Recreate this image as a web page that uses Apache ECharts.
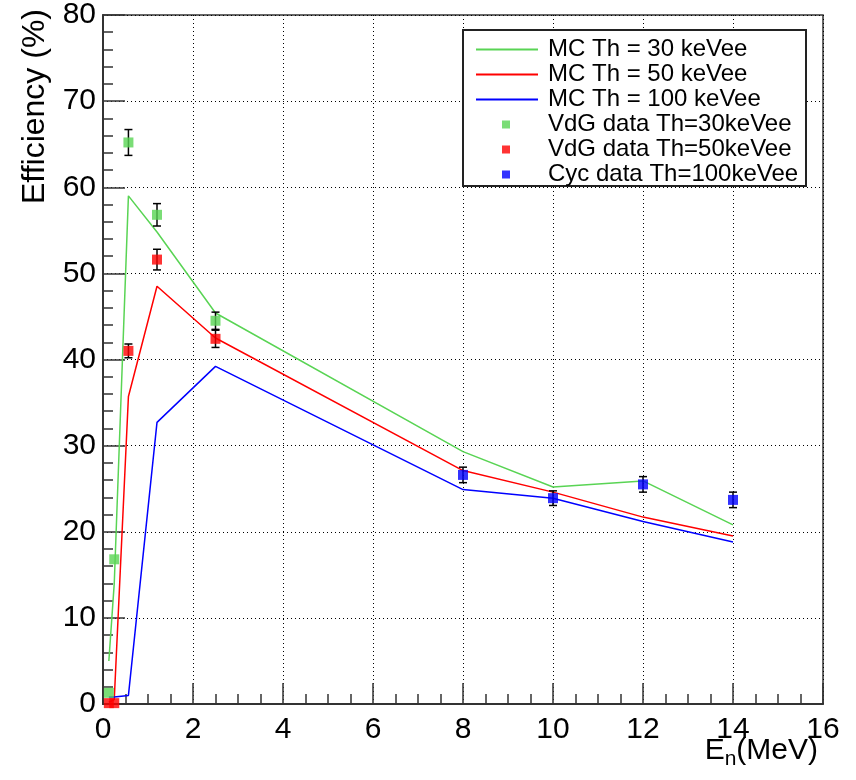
<!DOCTYPE html>
<html><head><meta charset="utf-8">
<script src="https://cdn.jsdelivr.net/npm/echarts@6/dist/echarts.min.js"></script>
<style>html,body{margin:0;padding:0;background:#fff}#c{width:856px;height:780px}</style>
</head><body><div id="c"></div>
<script>
// ---- data ----
const mcEnergies = [0.13, 0.25, 0.565, 1.2, 2.5, 8, 10, 12, 14];
const mc30 = [5.0, 14.0, 59.0, 54.8, 45.4, 29.3, 25.2, 25.9, 20.8];
const mc50 = [0.2, 0.5, 35.7, 48.5, 42.5, 27.1, 24.6, 21.7, 19.5];
const mc100 = [0.8, 0.8, 1.0, 32.7, 39.2, 24.9, 23.9, 21.2, 18.8];

const vdgEnergies = [0.13, 0.25, 0.565, 1.2, 2.5];
const vdg30 = [1.3, 16.8, 65.2, 56.8, 44.5];
const vdg30Err = [0, 0, 1.5, 1.3, 1.0];
const vdg50 = [0.1, 0.1, 41.0, 51.6, 42.4];
const vdg50Err = [0, 0, 0.8, 1.2, 1.0];

const cycEnergies = [8, 10, 12, 14];
const cyc100 = [26.6, 23.9, 25.5, 23.7];
const cyc100Err = [0.9, 0.85, 0.9, 0.9];

const mcNames = ['MC Th = 30 keVee', 'MC Th = 50 keVee', 'MC Th = 100 keVee'];
const dataNames = ['VdG data Th=30keVee', 'VdG data Th=50keVee', 'Cyc data Th=100keVee'];
const xTitle = 'E{sub|n}(MeV)';
const yTitle = 'Efficiency (%)';

// ---- style ----
const GREEN = '#59d454', RED = '#ff0000', BLUE = '#0000ff';
const FONT = 'Liberation Sans, Arial, Helvetica, sans-serif';

function pairs(xs, ys) { return xs.map((x, i) => [x, ys[i]]); }
function errData(xs, ys, es) { return xs.map((x, i) => [x, ys[i], es[i]]).filter(d => d[2] > 0); }

function lineSeries(name, ys, color) {
  return { type: 'line', name, data: pairs(mcEnergies, ys), showSymbol: false, symbol: 'none',
    lineStyle: { color, width: 1.5 }, itemStyle: { color }, z: 3, animation: false };
}
function scatterSeries(name, xs, ys, color) {
  return { type: 'scatter', name, data: pairs(xs, ys), symbol: 'rect', symbolSize: 10,
    itemStyle: { color }, z: 6, animation: false, clip: false };
}
function errSeries(name, xs, ys, es) {
  return { type: 'custom', name, data: errData(xs, ys, es), z: 5, animation: false,
    encode: { x: 0, y: 1 },
    renderItem(params, api) {
      const x = api.value(0), y = api.value(1), e = api.value(2);
      const lo = api.coord([x, y - e]), hi = api.coord([x, y + e]);
      const w = 4, st = { stroke: '#000', lineWidth: 1.5 };
      return { type: 'group', children: [
        { type: 'line', shape: { x1: lo[0], y1: lo[1], x2: hi[0], y2: hi[1] }, style: st },
        { type: 'line', shape: { x1: lo[0] - w, y1: lo[1], x2: lo[0] + w, y2: lo[1] }, style: st },
        { type: 'line', shape: { x1: hi[0] - w, y1: hi[1], x2: hi[0] + w, y2: hi[1] }, style: st }
      ]};
    }
  };
}

const chart = echarts.init(document.getElementById('c'), null, { renderer: 'canvas' });
const dotted = { color: '#000', width: 1, type: [1, 3] };
chart.setOption({
  backgroundColor: '#fff',
  animation: false,
  grid: { left: 103, right: 33, top: 14, bottom: 76, show: true, borderColor: '#333', borderWidth: 1.5, backgroundColor: 'transparent' },
  xAxis: {
    type: 'value', min: 0, max: 16, interval: 2,
    axisLine: { show: true, onZero: false, lineStyle: { color: '#333', width: 2 } },
    axisTick: { show: true, inside: true, length: 21, lineStyle: { color: '#333', width: 1.5 } },
    minorTick: { show: true, splitNumber: 4, length: 10, lineStyle: { color: '#333', width: 1.5 } },
    axisLabel: { color: '#000', fontSize: 30, fontFamily: FONT, margin: 11 },
    splitLine: { show: true, lineStyle: dotted }
  },
  yAxis: {
    type: 'value', min: 0, max: 80, interval: 10,
    axisLine: { show: true, onZero: false, lineStyle: { color: '#333', width: 2 } },
    axisTick: { show: true, inside: true, length: 22, lineStyle: { color: '#333', width: 1.5 } },
    minorTick: { show: true, splitNumber: 5, length: 10, lineStyle: { color: '#333', width: 1.5 } },
    axisLabel: { color: '#000', fontSize: 30, fontFamily: FONT, margin: 7 },
    splitLine: { show: true, lineStyle: dotted }
  },
  legend: [
    { data: mcNames, orient: 'vertical', left: 476, top: 37, padding: 0, itemWidth: 62, itemHeight: 2, icon: 'rect', itemGap: 0,
      selectedMode: false, z: 12,
      textStyle: { fontSize: 24, lineHeight: 25, fontFamily: FONT, color: '#000', padding: [0, 0, 0, 5] } },
    { data: dataNames, orient: 'vertical', left: 502, top: 112, padding: 0, itemWidth: 8, itemHeight: 8, icon: 'rect', itemGap: 0,
      selectedMode: false, z: 12,
      textStyle: { fontSize: 24, lineHeight: 25, fontFamily: FONT, color: '#000', padding: [0, 0, 0, 33] } }
  ],
  graphic: [
    { type: 'rect', shape: { x: 463, y: 30, width: 343, height: 156 }, style: { fill: '#fff', stroke: '#222', lineWidth: 2 }, z: 8, silent: true },
    { type: 'text', x: 35, y: 9, rotation: Math.PI / 2, z: 20,
      style: { text: yTitle, font: '32px ' + FONT, fill: '#000', textAlign: 'right', textVerticalAlign: 'middle' } },
    { type: 'text', x: 818, y: 751, z: 20,
      style: { text: xTitle, font: '30px ' + FONT, fill: '#000', textAlign: 'right', textVerticalAlign: 'middle',
        rich: { sub: { fontSize: 21, fontFamily: FONT, fill: '#000', padding: [16, 0, 0, 0] } } } }
  ],
  series: [
    lineSeries(mcNames[0], mc30, GREEN),
    lineSeries(mcNames[1], mc50, RED),
    lineSeries(mcNames[2], mc100, BLUE),
    errSeries('err30', vdgEnergies, vdg30, vdg30Err),
    errSeries('err50', vdgEnergies, vdg50, vdg50Err),
    errSeries('err100', cycEnergies, cyc100, cyc100Err),
    scatterSeries(dataNames[0], vdgEnergies, vdg30, GREEN),
    scatterSeries(dataNames[1], vdgEnergies, vdg50, RED),
    scatterSeries(dataNames[2], cycEnergies, cyc100, BLUE)
  ]
});
</script></body></html>
